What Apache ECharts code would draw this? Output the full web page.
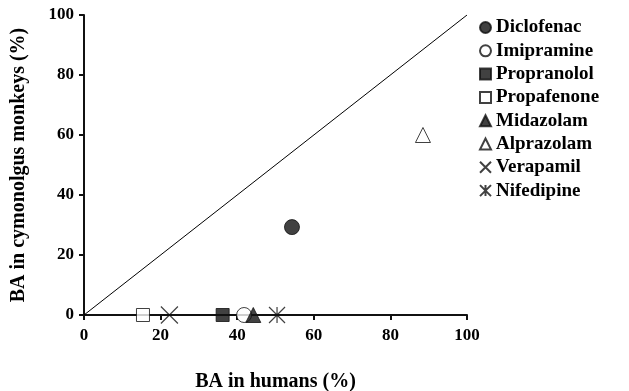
<!DOCTYPE html>
<html><head><meta charset="utf-8">
<script src="https://cdn.jsdelivr.net/npm/echarts@6/dist/echarts.min.js"></script>
<style>html,body{margin:0;padding:0;background:#fff}#c{width:629px;height:391px}</style>
</head><body><div id="c"></div>
<script>
const compounds = ['Diclofenac','Imipramine','Propranolol','Propafenone','Midazolam','Alprazolam','Verapamil','Nifedipine'];
const humanBA  = [54.3, 41.8, 36.2, 15.4, 44.2, 88.5, 22.3, 50.4];
const monkeyBA = [29.3, 0, 0, 0, 0, 60, 0, 0];
const xTicks = [0,20,40,60,80,100];
const yTicks = [0,20,40,60,80,100];

const symbols = ['circle','circle','rect','rect','triangle','triangle',
  'path://M0,0L10,10M10,0L0,10',
  'path://M0,0L10,10M10,0L0,10M5,0L5,10'];
const filled = [true,false,true,false,true,false,null,null];
const sizes = [15,15,13,13,15,15,17,16];
const fontFam = '"Liberation Serif","Times New Roman",serif';

const series = compounds.map((name,i)=>{
  let itemStyle;
  if (filled[i]===true) itemStyle={color:'#111',borderColor:'#111',borderWidth:1};
  else if (filled[i]===false) itemStyle={color:'#fff',borderColor:'#111',borderWidth:1};
  else itemStyle={color:'rgba(0,0,0,0)',borderColor:'#111',borderWidth:1.2};
  return {name, type:'scatter', symbol:symbols[i], symbolSize:sizes[i],
    itemStyle, data:[[humanBA[i],monkeyBA[i]]], z:5};
});
series.unshift({name:'identity', type:'line', data:[[0,0],[100,100]], showSymbol:false,
  symbol:'none', lineStyle:{color:'#000',width:1}, silent:true, z:2});

const chart = echarts.init(document.getElementById('c'), null, {renderer:'canvas'});
chart.setOption({
  animation:false,
  backgroundColor:'#fff',
  grid:{left:84,right:162,top:15,bottom:76,containLabel:false,outerBoundsMode:'none'},
  xAxis:{type:'value',min:0,max:100,interval:20,
    name:'BA in humans (%)',nameLocation:'middle',nameGap:57,
    nameTextStyle:{fontFamily:fontFam,fontWeight:'bold',fontSize:20,color:'#000'},
    axisLine:{lineStyle:{color:'#111',width:2}},
    axisTick:{show:true,length:5,lineStyle:{color:'#111',width:2}},
    axisLabel:{fontFamily:fontFam,fontWeight:'bold',fontSize:17,color:'#000',margin:12},
    splitLine:{show:false}},
  yAxis:{type:'value',min:0,max:100,interval:20,
    name:'BA in cymonolgus monkeys (%)',nameLocation:'middle',nameGap:55,
    nameTextStyle:{fontFamily:fontFam,fontWeight:'bold',fontSize:20,color:'#000'},
    axisLine:{lineStyle:{color:'#111',width:2}},
    axisTick:{show:true,length:5,lineStyle:{color:'#111',width:2}},
    axisLabel:{fontFamily:fontFam,fontWeight:'bold',fontSize:17,color:'#000',margin:10},
    splitLine:{show:false}},
  legend:{orient:'vertical',left:474,top:13,itemGap:4.3,itemWidth:11,itemHeight:11,
    data:compounds,
    textStyle:{fontFamily:fontFam,fontWeight:'bold',fontSize:19,color:'#000'}},
  series
});
</script></body></html>
